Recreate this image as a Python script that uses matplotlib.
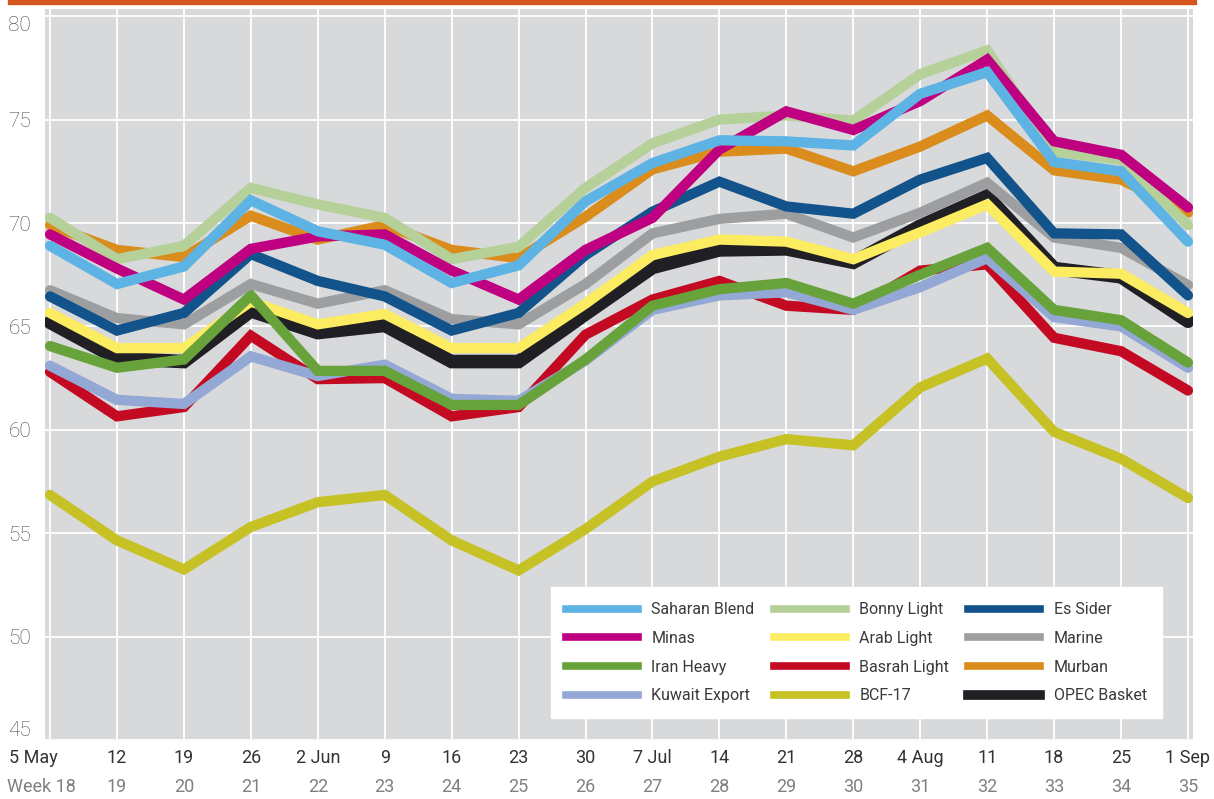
import matplotlib
matplotlib.use("Agg")
import matplotlib.pyplot as plt
from matplotlib.lines import Line2D
from matplotlib.patches import Rectangle
from matplotlib import font_manager
import numpy as np

# ── data (USD/b, weekly averages) ─────────────────────────────────────────────
DATES = ["5 May", "12", "19", "26", "2 Jun", "9", "16", "23", "30", "7 Jul",
         "14", "21", "28", "4 Aug", "11", "18", "25", "1 Sep"]
WEEKS = ["Week 18", "19", "20", "21", "22", "23", "24", "25", "26", "27",
         "28", "29", "30", "31", "32", "33", "34", "35"]

saharan = [68.9, 67.05, 67.9, 71.1, 69.6, 68.95, 67.1, 67.95, 71.05, 72.9,
           74.0, 73.95, 73.75, 76.25, 77.3, 72.95, 72.5, 69.1]
minas   = [69.45, 67.8, 66.3, 68.75, 69.35, 69.45, 67.7, 66.3, 68.7, 70.25,
           73.55, 75.4, 74.5, 75.9, 77.9, 73.95, 73.3, 70.75]
iran_heavy = [64.05, 63.0, 63.4, 66.5, 62.85, 62.85, 61.2, 61.2, 63.4, 66.0,
              66.8, 67.1, 66.1, 67.5, 68.8, 65.8, 65.3, 63.25]
kuwait  = [63.1, 61.45, 61.25, 63.55, 62.6, 63.15, 61.5, 61.4, 63.35, 65.8,
           66.5, 66.65, 65.8, 66.9, 68.3, 65.45, 65.0, 63.0]
bonny   = [70.25, 68.25, 68.9, 71.7, 70.9, 70.25, 68.25, 68.85, 71.7, 73.85,
           75.0, 75.2, 74.95, 77.2, 78.35, 73.45, 73.05, 69.9]
arab_light = [65.65, 63.95, 63.95, 66.2, 65.1, 65.6, 63.95, 63.95, 66.1, 68.45,
              69.2, 69.1, 68.25, 69.55, 70.9, 67.65, 67.55, 65.65]
basrah  = [62.8, 60.65, 61.1, 64.55, 62.45, 62.5, 60.65, 61.1, 64.6, 66.3,
           67.2, 66.0, 65.8, 67.7, 68.0, 64.45, 63.8, 61.9]
bcf17   = [56.85, 54.65, 53.25, 55.3, 56.5, 56.85, 54.65, 53.2, 55.2, 57.5,
           58.7, 59.55, 59.25, 62.05, 63.45, 59.9, 58.6, 56.7]
es_sider = [66.45, 64.8, 65.65, 68.5, 67.2, 66.45, 64.8, 65.65, 68.45, 70.55,
            72.0, 70.8, 70.45, 72.1, 73.15, 69.5, 69.45, 66.5]
marine  = [66.75, 65.4, 65.1, 67.05, 66.1, 66.75, 65.35, 65.1, 67.05, 69.5,
           70.2, 70.45, 69.3, 70.5, 71.95, 69.3, 68.8, 67.0]
murban  = [69.9, 68.7, 68.35, 70.35, 69.2, 69.9, 68.7, 68.3, 70.3, 72.6,
           73.45, 73.6, 72.5, 73.7, 75.2, 72.55, 72.1, 70.5]
opec    = [65.2, 63.45, 63.3, 65.75, 64.7, 65.05, 63.3, 63.3, 65.6, 67.85,
           68.7, 68.75, 68.1, 69.85, 71.3, 67.8, 67.4, 65.25]

# name, values, colour, linewidth — listed bottom-most first (draw order)
SERIES = [
    ("BCF-17",        bcf17,      "#C6C124", 7.4),
    ("Basrah Light",  basrah,     "#C40A22", 7.4),
    ("Kuwait Export", kuwait,     "#93A8D4", 7.4),
    ("OPEC Basket",   opec,       "#202024", 9.8),
    ("Arab Light",    arab_light, "#FCEC62", 7.4),
    ("Iran Heavy",    iran_heavy, "#67A33A", 7.4),
    ("Marine",        marine,     "#9D9EA0", 7.4),
    ("Es Sider",      es_sider,   "#13538B", 7.4),
    ("Murban",        murban,     "#DA8D1C", 7.4),
    ("Bonny Light",   bonny,      "#B6D09A", 7.4),
    ("Minas",         minas,      "#BE0081", 7.4),
    ("Saharan Blend", saharan,    "#5DB3E4", 7.4),
]
LEGEND_ORDER = ["Saharan Blend", "Minas", "Iran Heavy", "Kuwait Export",
                "Bonny Light", "Arab Light", "Basrah Light", "BCF-17",
                "Es Sider", "Marine", "Murban", "OPEC Basket"]

# ── style ─────────────────────────────────────────────────────────────────────
installed = {f.name for f in font_manager.fontManager.ttflist}
FAMILY = [f for f in ["Liberation Sans Narrow", "Roboto", "DejaVu Sans"] if f in installed]
plt.rcParams.update({
    "font.family": FAMILY,
    "font.size": 13,
})

BG = "#D8D9DB"

fig = plt.figure(figsize=(12.14, 7.99), dpi=100)
ax = fig.add_axes([45 / 1214, 1 - 741 / 799, 1148 / 1214, 732 / 799])
ax.set_facecolor(BG)
for s in ax.spines.values():
    s.set_visible(False)

x = np.arange(len(DATES))
handles = {}
for name, vals, col, lw in SERIES:
    ax.plot(x, vals, color=col, linewidth=lw, solid_capstyle="round",
            solid_joinstyle="miter", label=name)
    handles[name] = Line2D([0], [0], color=col,
                           linewidth=7 if name == "OPEC Basket" else 5.5)

ax.set_xlim(-0.075, 17.075)
ax.set_ylim(44.95, 80.35)
ax.set_yticks(range(45, 81, 5))
ax.set_xticks(x)
ax.set_xticklabels([])
ax.grid(True, color="white", linewidth=1.3)
ax.set_axisbelow(True)
ax.tick_params(length=0, pad=10)
ax.tick_params(axis="y", labelcolor="#4a4a4a", labelsize=15)
ylabels = ax.get_yticklabels()
for t in ylabels:
    t.set_fontweight("light")
ylabels[0].set_verticalalignment("bottom")
ylabels[-1].set_verticalalignment("top")

# two-row x labels: date and week number
for i, (d, w) in enumerate(zip(DATES, WEEKS)):
    dx = -12 if i == 0 else 0
    ax.annotate(d, (i, 0), xycoords=("data", "axes fraction"),
                xytext=(dx, -12), textcoords="offset points",
                ha="center", va="center", fontsize=13, color="#333333")
    dx = -6 if i == 0 else 0
    ax.annotate(w, (i, 0), xycoords=("data", "axes fraction"),
                xytext=(dx, -33), textcoords="offset points",
                ha="center", va="center", fontsize=13, color="#808080")

leg = ax.legend([handles[n] for n in LEGEND_ORDER], LEGEND_ORDER, ncol=3,
                loc="lower right", bbox_to_anchor=(0.973, 0.031),
                frameon=True, fancybox=False, framealpha=1, edgecolor="white",
                facecolor="white", fontsize=11.5, handlelength=4.5,
                handletextpad=0.85, columnspacing=1.2, labelspacing=0.85,
                borderpad=0.95, borderaxespad=0)
for t in leg.get_texts():
    t.set_color("#3a3a3a")

# orange rule at the top
fig.patches.append(Rectangle((8 / 1214, 1 - 4 / 799), 1188 / 1214, 4 / 799,
                             transform=fig.transFigure, color="#D5541E",
                             zorder=5))

fig.savefig("out.png", dpi=100)
